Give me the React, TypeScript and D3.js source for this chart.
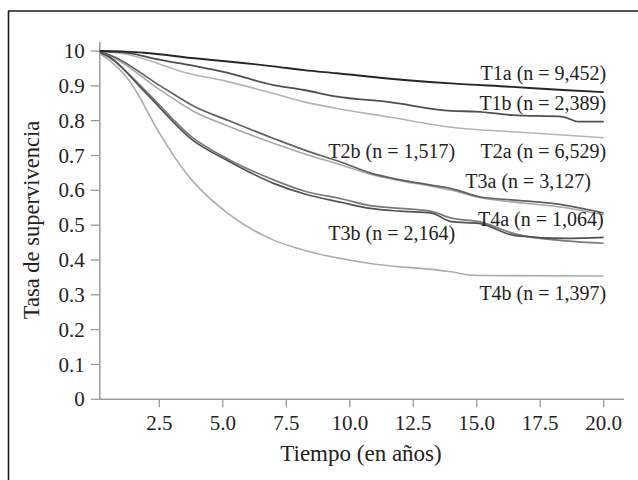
import React from "react";
import * as d3 from "d3";

const W = 638;
const H = 480;

const seriesNames = ["T1a", "T1b", "T2a", "T2b", "T3a", "T3b", "T4a", "T4b"];
const seriesCounts = ["9,452", "2,389", "6,529", "1,517", "3,127", "2,164", "1,064", "1,397"];

const t1aT = [0, 1, 1.9, 3.9, 5.2, 7, 8.2, 9.5, 11.5, 14, 16.4, 18.4, 20];
const t1aS = [1, 0.999, 0.995, 0.979, 0.97, 0.956, 0.945, 0.936, 0.921, 0.907, 0.897, 0.888, 0.882];

const t1bT = [0, 1.3, 2.5, 3.2, 5.2, 7, 8.2, 9.5, 11.5, 14, 15, 16.4, 18.4, 19, 20];
const t1bS = [1, 0.994, 0.975, 0.966, 0.937, 0.902, 0.888, 0.869, 0.854, 0.828, 0.826, 0.816, 0.811, 0.797, 0.797];

const t2aT = [0, 1.3, 2.5, 3.2, 5.2, 7, 8.2, 9.5, 11.5, 14, 16.4, 18.4, 20];
const t2aS = [1, 0.989, 0.963, 0.945, 0.912, 0.878, 0.854, 0.835, 0.811, 0.781, 0.768, 0.759, 0.751];

const t2bT = [0, 0.5, 2.6, 3.9, 5.2, 7, 8.2, 9.7, 10.8, 12, 13.2, 14, 15.2, 16.5, 18.5, 20];
const t2bS = [1, 0.99, 0.897, 0.84, 0.801, 0.749, 0.716, 0.68, 0.65, 0.63, 0.615, 0.605, 0.58, 0.572, 0.557, 0.535];

const t3aT = [0, 0.5, 2.6, 3.9, 5.2, 7, 8.2, 9.7, 10.8, 12, 13.2, 14, 15.2, 16.5, 18.5, 20];
const t3aS = [1, 0.988, 0.885, 0.825, 0.785, 0.735, 0.705, 0.672, 0.646, 0.627, 0.612, 0.6, 0.578, 0.566, 0.55, 0.53];

const t3bT = [0, 0.5, 1.9, 3.8, 5.2, 7, 8.2, 9.7, 10.8, 12, 13.2, 14, 15.1, 16.5, 18.5, 20];
const t3bS = [1, 0.985, 0.885, 0.745, 0.685, 0.62, 0.59, 0.565, 0.548, 0.54, 0.535, 0.51, 0.505, 0.47, 0.462, 0.465];

const t4aT = [0, 0.5, 1.9, 3.8, 5.2, 7, 8.2, 9.7, 10.8, 12, 13.2, 14, 15.1, 16.5, 18.5, 20];
const t4aS = [1, 0.983, 0.89, 0.752, 0.69, 0.63, 0.598, 0.575, 0.556, 0.548, 0.54, 0.52, 0.51, 0.475, 0.455, 0.448];

const t4bT = [0, 0.5, 1.3, 2.5, 3.5, 3.9, 5.2, 7, 8.2, 10.8, 14, 14.8, 16, 20];
const t4bS = [1, 0.975, 0.917, 0.765, 0.655, 0.62, 0.534, 0.457, 0.428, 0.39, 0.366, 0.356, 0.355, 0.354];

const allT = [t1aT, t1bT, t2aT, t2bT, t3aT, t3bT, t4aT, t4bT];
const allS = [t1aS, t1bS, t2aS, t2bS, t3aS, t3bS, t4aS, t4bS];

// label anchors (end of text) in data coordinates
const labelT = [20.1, 20.1, 20.1, 14.15, 19.5, 14.15, 20, 20.1];
const labelS = [0.9175, 0.831, 0.694, 0.694, 0.608, 0.458, 0.498, 0.285];

const seriesColors = ["#262626", "#4f4f4f", "#b4b4b4", "#606060", "#a8a8a8", "#525252", "#7a7a7a", "#acacac"];
const seriesWidths = [1.9, 1.8, 1.6, 1.7, 1.6, 1.7, 1.7, 1.6];
// draw order (light first)
const drawOrder = [2, 4, 7, 6, 5, 3, 1, 0];

const xTicks = [2.5, 5, 7.5, 10, 12.5, 15, 17.5, 20];
const xTickLabels = ["2.5", "5.0", "7.5", "10.0", "12.5", "15.0", "17.5", "20.0"];
const yTicks = [0, 0.1, 0.2, 0.3, 0.4, 0.5, 0.6, 0.7, 0.8, 0.9, 1];
const yTickLabels = ["0", "0.1", "0.2", "0.3", "0.4", "0.5", "0.6", "0.7", "0.8", "0.9", "10"];

const xTitle = "Tiempo (en años)";
const yTitle = "Tasa de supervivencia";

const FONT = "'Liberation Serif', 'Times New Roman', serif";

export default function App() {
  const x = d3.scaleLinear().domain([0, 20]).range([95.8, 603.7]);
  const y = d3.scaleLinear().domain([0, 1]).range([399.3, 51]);
  const axisX = x(0) + 4;
  const axisColor = "#9a9a9a";
  const textColor = "#222";

  const line = d3
    .line<[number, number]>()
    .x((d) => x(d[0]))
    .y((d) => y(d[1]))
    .curve(d3.curveMonotoneX);

  return (
    <svg
      width={W}
      height={H}
      style={{ position: "absolute", left: 0, top: 0, background: "#fff" }}
      fontFamily={FONT}
    >
      <rect x={0} y={0} width={W} height={H} fill="#fff" />
      {/* frame */}
      <line x1={8.5} y1={11} x2={8.5} y2={H} stroke="#1a1a1a" strokeWidth={1.6} />
      <line x1={8} y1={11} x2={W} y2={11} stroke="#1a1a1a" strokeWidth={1.6} />

      <defs>
        <clipPath id="plotClip">
          <rect x={axisX} y={30} width={560} height={380} />
        </clipPath>
      </defs>

      {/* axes */}
      <line x1={axisX} y1={y(1.026)} x2={axisX} y2={y(0)} stroke={axisColor} strokeWidth={1.5} />
      <line x1={axisX} y1={y(0)} x2={x(20.8)} y2={y(0)} stroke={axisColor} strokeWidth={1.5} />
      {yTicks.map((v, i) => (
        <g key={"yt" + i}>
          <line x1={axisX - 9} x2={axisX} y1={y(v)} y2={y(v)} stroke={axisColor} strokeWidth={1.3} />
          <text
            x={axisX - 15}
            y={y(v)}
            dy="0.34em"
            textAnchor="end"
            fontSize={21}
            fill={textColor}
          >
            {yTickLabels[i]}
          </text>
        </g>
      ))}
      {xTicks.map((v, i) => (
        <g key={"xt" + i}>
          <line x1={x(v)} x2={x(v)} y1={y(0)} y2={y(0) + 8} stroke={axisColor} strokeWidth={1.3} />
          <text x={x(v)} y={430} textAnchor="middle" fontSize={21} fill={textColor}>
            {xTickLabels[i]}
          </text>
        </g>
      ))}
      <text x={361} y={461} textAnchor="middle" fontSize={23} fill={textColor}>
        {xTitle}
      </text>
      <text
        transform={`translate(39, 220) rotate(-90)`}
        textAnchor="middle"
        fontSize={22.5}
        fill={textColor}
      >
        {yTitle}
      </text>

      {/* curves */}
      <g clipPath="url(#plotClip)">
        {drawOrder.map((i) => {
          const pts: [number, number][] = allT[i].map((t, k) => [t, allS[i][k]]);
          return (
            <path
              key={"c" + i}
              d={line(pts) || ""}
              fill="none"
              stroke={seriesColors[i]}
              strokeWidth={seriesWidths[i]}
              strokeLinejoin="round"
            />
          );
        })}
      </g>

      {/* labels */}
      {seriesNames.map((n, i) => (
        <text
          key={"l" + i}
          x={x(labelT[i])}
          y={y(labelS[i])}
          textAnchor="end"
          fontSize={20}
          fill={textColor}
        >
          {`${n} (n = ${seriesCounts[i]})`}
        </text>
      ))}
    </svg>
  );
}
